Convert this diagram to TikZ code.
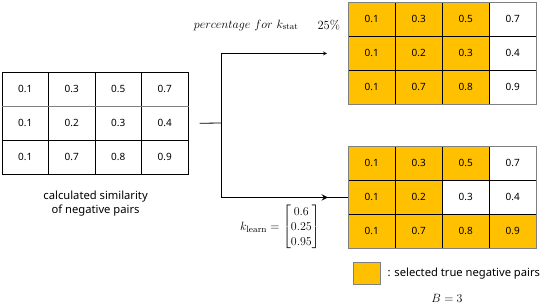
\documentclass[tikz,border=0pt]{standalone}
\usepackage{amsmath}
\usepackage{fontspec}
\setsansfont{Noto Sans}
\usetikzlibrary{positioning}
\definecolor{selorange}{HTML}{FFC000}
\tikzset{
  cell/.style={draw,line width=0.8pt,anchor=north west,inner sep=0pt,
    minimum width=46.8pt,minimum height=34pt,font=\sffamily\fontsize{10}{12}\selectfont},
  s1/.style={fill=selorange},
  s0/.style={fill=white},
  caption/.style={font=\sffamily\fontsize{11.2}{14}\selectfont,align=center,inner sep=0pt},
  mathlbl/.style={font=\fontsize{12.5}{15}\selectfont},
}

\begin{document}
\begin{tikzpicture}[x=1pt,y=-1pt,>=stealth]
\useasboundingbox (0,0) rectangle (548,306);
% similarity table (left)
\foreach \row/\vals in {1/{0.1,0.3,0.5,0.7},2/{0.1,0.2,0.3,0.4},3/{0.1,0.7,0.8,0.9}}
  {\foreach \v [count=\col] in \vals
    {\node[cell] (L-\row-\col) at ({1.5+46.5*(\col-1)},{72+34*(\row-1)}) {\v};}}
\draw[gray,line width=1pt] (L-1-1.south west) -- (L-1-4.south east);
\node[caption,below=16pt of L-3-2.south east] (cap) {calculated similarity\\of negative pairs};
% k_stat result (top right)
\foreach \row/\vals in {1/{1/0.1,1/0.3,1/0.5,0/0.7},2/{1/0.1,1/0.2,1/0.3,0/0.4},3/{1/0.1,1/0.7,1/0.8,0/0.9}}
  {\foreach \f/\v [count=\col] in \vals
    {\node[cell,s\f] (T-\row-\col) at ({348+47*(\col-1)},{2+34*(\row-1)}) {\v};}}
\draw[gray,line width=0.8pt] (T-1-1.north west) rectangle (T-3-4.south east);
% k_learn result (bottom right)
\foreach \row/\vals in {1/{1/0.1,1/0.3,1/0.5,0/0.7},2/{1/0.1,1/0.2,0/0.3,0/0.4},3/{1/0.1,1/0.7,1/0.8,1/0.9}}
  {\foreach \f/\v [count=\col] in \vals
    {\node[cell,s\f] (B-\row-\col) at ({348+47*(\col-1)},{146+34*(\row-1)}) {\v};}}
\draw[gray,line width=0.8pt] (B-1-1.north west) rectangle (B-3-4.south east);
% connectors
\coordinate (split) at (221,123);
\draw[line width=0.8pt,shorten <=11pt] (L-2-4.east) -- (split);
\draw[->,line width=0.8pt,shorten >=21pt] (split) |- (T-2-1.west);
\draw[line width=0.8pt] (split) |- (B-2-1.west) coordinate[pos=0.5] (bend);
\draw[->,line width=1.8pt,shorten >=20pt] (bend) -- (B-2-1.west);
% labels
\node[mathlbl,anchor=east] (pct) at (302,25) {$percentage\ for\ k_{\mathrm{stat}}$};
\node[mathlbl,anchor=west] (val) at (314,25) {25\%};
\node[mathlbl,font=\fontsize{13}{15}\selectfont] (klearn) at (280,227) {$k_{\mathrm{learn}}=\begin{bmatrix}0.6\\0.25\\0.95\end{bmatrix}$};
% legend
\node[draw=gray,fill=selorange,minimum width=27pt,minimum height=22pt,inner sep=0pt,anchor=north west] (leg) at (353,262) {};
\node[caption,right=7pt of leg] (legtxt) {: selected true negative pairs};
\node[mathlbl] (bval) at (447,298) {$B=3$};
\end{tikzpicture}
\end{document}
